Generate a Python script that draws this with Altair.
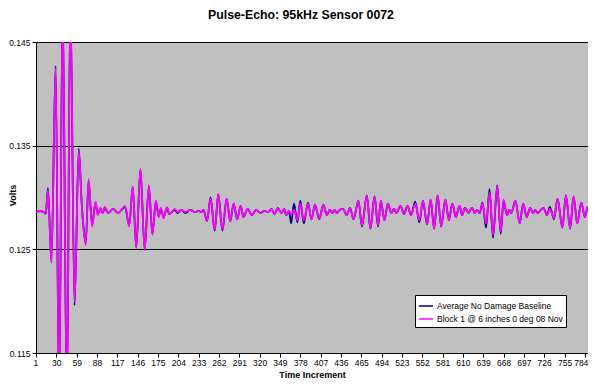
import altair as alt
import pandas as pd

# Time increment keypoints (peaks / troughs)
t = [1, 6, 12, 15, 18, 23, 29, 34, 39, 45, 50, 56, 62, 66, 68, 72, 76, 81, 86,
     89, 93, 96, 99, 104, 111, 118, 123, 128, 134, 139, 144, 150, 156, 162, 167,
     172, 176, 179, 183, 188, 191, 199, 203, 208, 214, 221, 228, 233, 237, 240,
     245, 250, 256, 261, 267, 273, 278, 283, 288, 293, 297, 303, 309, 315, 321,
     327, 332, 337, 341, 346, 351, 355, 358, 362, 365, 369, 374, 378, 383, 389,
     394, 399, 405, 411, 416, 420, 424, 427, 430, 434, 439, 444, 449, 454, 461,
     466, 473, 478, 484, 489, 493, 498, 503, 508, 512, 515, 521, 526, 531, 536,
     542, 548, 553, 559, 564, 569, 574, 579, 585, 590, 595, 600, 605, 609, 613,
     618, 623, 627, 630, 634, 638, 643, 648, 653, 659, 664, 668, 673, 676, 679,
     685, 691, 696, 701, 706, 710, 713, 717, 721, 725, 730, 734, 740, 745, 752,
     757, 763, 768, 773, 779, 784, 788, 793, 797, 800]

block1 = [.1286, .1287, .1286, .1284, .1307, .1237, .1425, .1100, .1490, .1100,
          .1490, .1199, .1345, .1297, .1277, .1254, .1318, .1272, .1296,
          .1283, .1290, .1285, .1291, .1285, .1289, .1285, .1288, .1292, .1272,
          .1311, .1251, .1328, .1249, .1312, .1264,
          .1297, .1281, .1290, .1280, .1291, .1284, .1289, .1286, .1288, .1286,
          .1288, .1286, .1287, .1286, .1288,
          .1277, .1299, .1269, .1303, .1269, .1299, .1277, .1294, .1279, .1292,
          .1281, .1289, .1283, .1288, .1285,
          .1287, .1286, .1289, .1284, .1290, .1285, .1289, .1283, .1287, .1284,
          .1288, .1278, .1294, .1278, .1294,
          .1279, .1293, .1279, .1293, .1283, .1288, .1285, .1288, .1285, .1288,
          .1289, .1283, .1290, .1279, .1297,
          .1273, .1302, .1270, .1301, .1273, .1297, .1278, .1294, .1285, .1289,
          .1285, .1292, .1284, .1292, .1283,
          .1294, .1278, .1297, .1274, .1298, .1270, .1302, .1272, .1298, .1278,
          .1294, .1281, .1292, .1283, .1290,
          .1285, .1290, .1285, .1288, .1285, .1294, .1275, .1305, .1264, .1311,
          .1267, .1298, .1283, .1288, .1285,
          .1297, .1275, .1294, .1281, .1290, .1285, .1288, .1285, .1288, .1290,
          .1283, .1289, .1280, .1299, .1271,
          .1302, .1270, .1301, .1275, .1295, .1281, .1291, .1283, .1294, .1291]

baseline = [.1286, .1287, .1286, .1284, .1309, .1238, .1427, .1100, .1490, .1100,
            .1490, .1196, .1347, .1297, .1277, .1256, .1316, .1274, .1295,
            .1284, .1289, .1285, .1290, .1285, .1289, .1285, .1288, .1291, .1273,
            .1310, .1252, .1327, .1250, .1311, .1265,
            .1296, .1282, .1289, .1281, .1290, .1284, .1288, .1285, .1288, .1285,
            .1288, .1286, .1287, .1286, .1288,
            .1277, .1300, .1268, .1303, .1268, .1299, .1277, .1294, .1279, .1292,
            .1281, .1289, .1283, .1288, .1285,
            .1287, .1286, .1289, .1284, .1290, .1285, .1289, .1283, .1287, .1275,
            .1294, .1276, .1297, .1275, .1295,
            .1279, .1293, .1279, .1293, .1283, .1288, .1285, .1288, .1285, .1288,
            .1289, .1283, .1290, .1279, .1297,
            .1272, .1302, .1270, .1301, .1272, .1297, .1278, .1294, .1285, .1289,
            .1285, .1292, .1284, .1292, .1283,
            .1296, .1276, .1297, .1274, .1298, .1270, .1302, .1272, .1298, .1278,
            .1294, .1281, .1292, .1283, .1290,
            .1285, .1290, .1285, .1288, .1285, .1295, .1271, .1308, .1261, .1312,
            .1265, .1297, .1283, .1288, .1285,
            .1297, .1275, .1294, .1281, .1290, .1285, .1288, .1285, .1288, .1290,
            .1283, .1291, .1279, .1299, .1271,
            .1302, .1270, .1301, .1275, .1295, .1281, .1291, .1283, .1294, .1291]

x_ticks = list(range(1, 785, 29))
y_ticks = [0.115, 0.125, 0.135, 0.145]
names = ["Average No Damage Baseline", "Block 1 @ 6 inches 0 deg 08 Nov"]
colors = ["#000080", "#FF00FF"]

df_base = pd.DataFrame({"t": t, "v": baseline, "series": names[0]})
df_blk = pd.DataFrame({"t": t, "v": block1, "series": names[1]})

FONT = "Liberation Sans"

x_enc = alt.X("t:Q",
              scale=alt.Scale(domain=[1, 788.5], nice=False, zero=False),
              axis=alt.Axis(values=x_ticks, title="Time Increment", grid=False,
                            labelFontSize=8.5, titleFontSize=9, titleFontWeight="bold",
                            tickSize=4, labelPadding=1, titleY=17,
                            labelFlush=4, labelFlushOffset=3,
                            domainColor="black", tickColor="black",
                            labelOverlap=False))
y_enc = alt.Y("v:Q",
              scale=alt.Scale(domain=[0.115, 0.145], nice=False, zero=False),
              axis=alt.Axis(values=y_ticks, format=".3f", title="Volts",
                            grid=True, gridColor="black", gridOpacity=1,
                            labelFontSize=8.5, titleFontSize=9, titleFontWeight="bold",
                            tickSize=4, labelPadding=2, titleX=-19, titleY=153,
                            domainColor="black", tickColor="black"))
color_enc = alt.Color("series:N",
                      scale=alt.Scale(domain=names, range=colors),
                      legend=alt.Legend(title=None, orient="none",
                                        legendX=379, legendY=253,
                                        fillColor="white", strokeColor="black",
                                        padding=3, symbolType="stroke",
                                        symbolSize=200, symbolStrokeWidth=1.5,
                                        labelFontSize=8.5, labelFont=FONT,
                                        rowPadding=0, labelOffset=3))

base_line = alt.Chart(df_base).mark_line(
    strokeWidth=1.8, clip=True, interpolate="monotone").encode(
    x=x_enc, y=y_enc, color=color_enc)
blk_line = alt.Chart(df_blk).mark_line(
    strokeWidth=1.8, clip=True, interpolate="monotone").encode(
    x=x_enc, y=y_enc, color=color_enc)

chart = alt.layer(base_line, blk_line).properties(
    width=552, height=311,
    title=alt.TitleParams("Pulse-Echo: 95kHz Sensor 0072", fontSize=12.3,
                          font=FONT, fontWeight="bold", anchor="middle",
                          dx=-11, offset=17),
    autosize=alt.AutoSizeParams(type="none"),
    padding={"left": 28, "top": 34, "right": 0, "bottom": 28},
).configure(font=FONT, background="white").configure_view(
    fill="#C0C0C0", stroke="#808080", strokeWidth=1
).configure_axis(labelFont=FONT, titleFont=FONT, labelColor="black",
                 titleColor="black")

chart.save("out.html", embed_options={"renderer": "svg", "actions": False})
